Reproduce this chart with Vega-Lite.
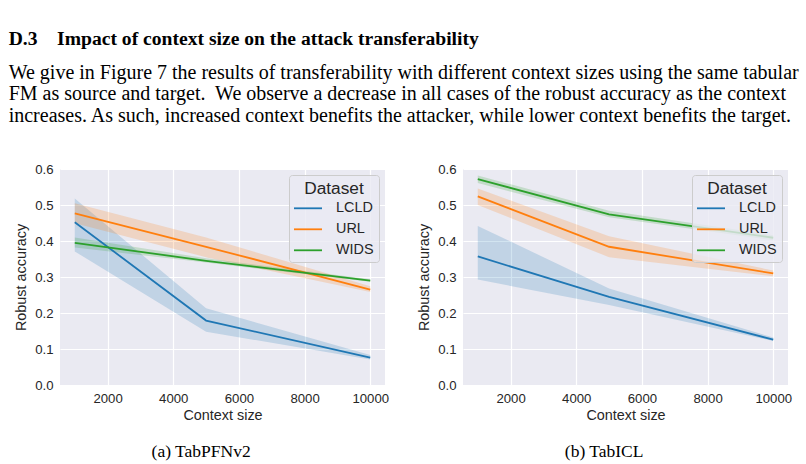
{
  "$schema": "https://vega.github.io/schema/vega-lite/v6.json",
  "background": "white",
  "padding": {"left": 8, "top": 28, "right": 5, "bottom": 3},
  "title": {
    "text": "D.3\u00a0\u00a0\u00a0 Impact of context size on the attack transferability",
    "subtitle": [
      "We give in Figure 7 the results of transferability with different context sizes using the same tabular",
      "FM as source and target.\u00a0 We observe a decrease in all cases of the robust accuracy as the context",
      "increases. As such, increased context benefits the attacker, while lower context benefits the target."
    ],
    "anchor": "start",
    "frame": "bounds",
    "dx": -5,
    "font": "Liberation Serif",
    "fontSize": 19.6,
    "fontWeight": "bold",
    "color": "#000000",
    "subtitleFont": "Liberation Serif",
    "subtitleFontSize": 20,
    "subtitleColor": "#000000",
    "subtitleLineHeight": 21.5,
    "subtitlePadding": 13.5,
    "offset": 35
  },
  "datasets": {
    "runs": [
      {"model": "TabPFNv2", "dataset": "LCLD", "context": 1000, "mean": 0.452, "lo": 0.371, "hi": 0.518},
      {"model": "TabPFNv2", "dataset": "LCLD", "context": 5000, "mean": 0.179, "lo": 0.148, "hi": 0.213},
      {"model": "TabPFNv2", "dataset": "LCLD", "context": 10000, "mean": 0.076, "lo": 0.071, "hi": 0.083},
      {"model": "TabPFNv2", "dataset": "URL", "context": 1000, "mean": 0.477, "lo": 0.449, "hi": 0.505},
      {"model": "TabPFNv2", "dataset": "URL", "context": 5000, "mean": 0.384, "lo": 0.355, "hi": 0.41},
      {"model": "TabPFNv2", "dataset": "URL", "context": 10000, "mean": 0.265, "lo": 0.258, "hi": 0.274},
      {"model": "TabPFNv2", "dataset": "WIDS", "context": 1000, "mean": 0.395, "lo": 0.382, "hi": 0.41},
      {"model": "TabPFNv2", "dataset": "WIDS", "context": 5000, "mean": 0.345, "lo": 0.34, "hi": 0.352},
      {"model": "TabPFNv2", "dataset": "WIDS", "context": 10000, "mean": 0.29, "lo": 0.287, "hi": 0.294},
      {"model": "TabICL", "dataset": "LCLD", "context": 1000, "mean": 0.357, "lo": 0.293, "hi": 0.442},
      {"model": "TabICL", "dataset": "LCLD", "context": 5000, "mean": 0.245, "lo": 0.222, "hi": 0.268},
      {"model": "TabICL", "dataset": "LCLD", "context": 10000, "mean": 0.126, "lo": 0.122, "hi": 0.132},
      {"model": "TabICL", "dataset": "URL", "context": 1000, "mean": 0.524, "lo": 0.5, "hi": 0.546},
      {"model": "TabICL", "dataset": "URL", "context": 5000, "mean": 0.384, "lo": 0.355, "hi": 0.413},
      {"model": "TabICL", "dataset": "URL", "context": 10000, "mean": 0.31, "lo": 0.302, "hi": 0.318},
      {"model": "TabICL", "dataset": "WIDS", "context": 1000, "mean": 0.572, "lo": 0.561, "hi": 0.582},
      {"model": "TabICL", "dataset": "WIDS", "context": 5000, "mean": 0.474, "lo": 0.466, "hi": 0.484},
      {"model": "TabICL", "dataset": "WIDS", "context": 10000, "mean": 0.409, "lo": 0.402, "hi": 0.416}
    ]
  },
  "spacing": 27,
  "resolve": {"legend": {"color": "independent"}},
  "hconcat": [
    {
      "width": 325,
      "height": 216,
      "title": {"text": "(a) TabPFNv2", "orient": "bottom", "anchor": "middle", "frame": "bounds", "offset": 21.5},
      "data": {"name": "runs"},
      "transform": [{"filter": "datum.model === 'TabPFNv2'"}],
      "encoding": {
        "x": {
          "field": "context", "type": "quantitative", "title": "Context size",
          "scale": {"domain": [550, 10450], "nice": false, "zero": false},
          "axis": {"values": [2000, 4000, 6000, 8000, 10000], "format": "d"}
        }
      },
      "layer": [
        {
          "mark": {"type": "area", "opacity": 0.2},
          "encoding": {
            "y": {"field": "lo", "type": "quantitative", "title": "Robust accuracy",
                  "scale": {"domain": [0, 0.6], "nice": false},
                  "axis": {"values": [0, 0.1, 0.2, 0.3, 0.4, 0.5, 0.6], "format": ".1f"}},
            "y2": {"field": "hi"},
            "fill": {"field": "dataset", "type": "nominal", "legend": null,
                     "scale": {"domain": ["LCLD", "URL", "WIDS"], "range": ["#1f77b4", "#ff7f0e", "#2ca02c"]}}
          }
        },
        {
          "mark": {"type": "line", "strokeWidth": 1.8},
          "encoding": {
            "y": {"field": "mean", "type": "quantitative", "title": "Robust accuracy",
                  "scale": {"domain": [0, 0.6], "nice": false},
                  "axis": {"values": [0, 0.1, 0.2, 0.3, 0.4, 0.5, 0.6], "format": ".1f"}},
            "color": {"field": "dataset", "type": "nominal", "title": "Dataset",
                      "scale": {"domain": ["LCLD", "URL", "WIDS"], "range": ["#1f77b4", "#ff7f0e", "#2ca02c"]}}
          }
        }
      ]
    },
    {
      "width": 325,
      "height": 216,
      "title": {"text": "(b) TabICL", "orient": "bottom", "anchor": "middle", "frame": "bounds", "offset": 21.5},
      "data": {"name": "runs"},
      "transform": [{"filter": "datum.model === 'TabICL'"}],
      "encoding": {
        "x": {
          "field": "context", "type": "quantitative", "title": "Context size",
          "scale": {"domain": [550, 10450], "nice": false, "zero": false},
          "axis": {"values": [2000, 4000, 6000, 8000, 10000], "format": "d"}
        }
      },
      "layer": [
        {
          "mark": {"type": "area", "opacity": 0.2},
          "encoding": {
            "y": {"field": "lo", "type": "quantitative", "title": "Robust accuracy",
                  "scale": {"domain": [0, 0.6], "nice": false},
                  "axis": {"values": [0, 0.1, 0.2, 0.3, 0.4, 0.5, 0.6], "format": ".1f"}},
            "y2": {"field": "hi"},
            "fill": {"field": "dataset", "type": "nominal", "legend": null,
                     "scale": {"domain": ["LCLD", "URL", "WIDS"], "range": ["#1f77b4", "#ff7f0e", "#2ca02c"]}}
          }
        },
        {
          "mark": {"type": "line", "strokeWidth": 1.8},
          "encoding": {
            "y": {"field": "mean", "type": "quantitative", "title": "Robust accuracy",
                  "scale": {"domain": [0, 0.6], "nice": false},
                  "axis": {"values": [0, 0.1, 0.2, 0.3, 0.4, 0.5, 0.6], "format": ".1f"}},
            "color": {"field": "dataset", "type": "nominal", "title": "Dataset",
                      "scale": {"domain": ["LCLD", "URL", "WIDS"], "range": ["#1f77b4", "#ff7f0e", "#2ca02c"]}}
          }
        }
      ]
    }
  ],
  "config": {
    "view": {"fill": "#EAEAF2", "stroke": null},
    "title": {"font": "Liberation Serif", "fontSize": 17.5, "fontWeight": "normal", "color": "#000000"},
    "axis": {
      "domain": false,
      "ticks": false,
      "grid": true,
      "gridColor": "#FFFFFF",
      "gridWidth": 1.2,
      "labelFont": "Liberation Sans",
      "labelFontSize": 13.2,
      "labelColor": "#262626",
      "titleFont": "Liberation Sans",
      "titleFontSize": 14.4,
      "titleFontWeight": "normal",
      "titleColor": "#262626"
    },
    "axisX": {"labelPadding": 7, "titlePadding": 4},
    "axisY": {"labelPadding": 7, "titlePadding": 6},
    "legend": {
      "orient": "top-right",
      "offset": 6,
      "padding": 5,
      "fillColor": "rgba(234,234,242,0.8)",
      "strokeColor": "#CCCCCC",
      "cornerRadius": 3,
      "titleFont": "Liberation Sans",
      "titleFontSize": 17.3,
      "titleFontWeight": "normal",
      "titleColor": "#262626",
      "titleAnchor": "middle",
      "titlePadding": 3,
      "labelFont": "Liberation Sans",
      "labelFontSize": 14.4,
      "labelColor": "#262626",
      "symbolType": "M-2,0H2",
      "symbolSize": 196,
      "symbolStrokeWidth": 1.8,
      "symbolOffset": 6,
      "labelOffset": 20,
      "rowPadding": 6
    }
  }
}
